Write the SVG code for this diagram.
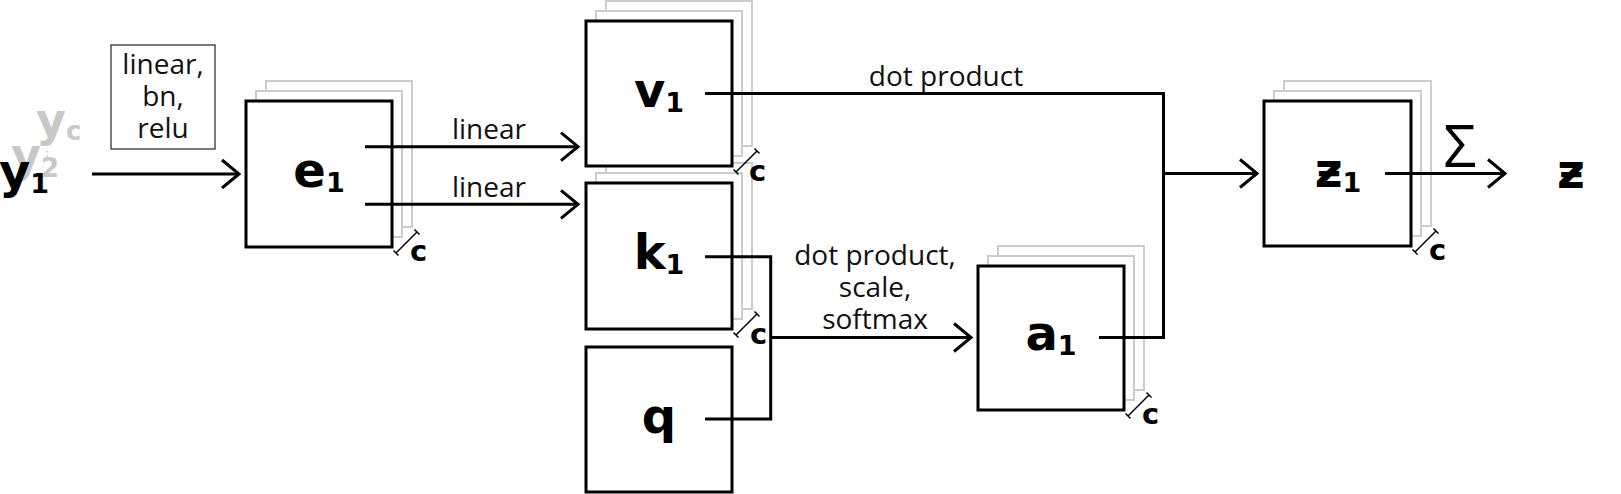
<svg xmlns="http://www.w3.org/2000/svg" width="1621" height="494" viewBox="0 0 1621 494">
<style>
.box{fill:#fff;stroke:#000;stroke-width:3}
.lay{fill:#fff;stroke:#cccccc;stroke-width:2}
.lbl{font-family:"Open Sans","DejaVu Sans",sans-serif;font-size:28px;fill:#111;text-anchor:middle}
.big{font-family:"DejaVu Sans",sans-serif;font-weight:bold;font-size:48px;fill:#000}
.sub{font-size:27px}
.cm{font-family:"DejaVu Sans",sans-serif;font-weight:bold;font-size:29px;fill:#000}
.brk{fill:none;stroke:#000;stroke-width:1.5}
.gy{font-family:"DejaVu Sans",sans-serif;font-weight:bold;font-size:46px;fill:#c8c8c8}
.con{fill:none;stroke:#000;stroke-width:3}
.arr{marker-end:url(#arrow)}
</style>
<defs>
<marker id="arrow" markerUnits="userSpaceOnUse" viewBox="-20 -17 24 34" markerWidth="24" markerHeight="34" refX="0" refY="0" orient="auto" overflow="visible">
<path d="M-17,-14 L0,0 L-17,14" fill="none" stroke="#000" stroke-width="3"/>
</marker>
</defs>
<rect width="1621" height="494" fill="#fff"/>

<g id="node-y">
<text class="gy" x="36" y="136">y<tspan font-size="26" dy="4">c</tspan></text>
<text x="47" y="160" font-family="DejaVu Sans,sans-serif" font-size="13" fill="#c8c8c8" text-anchor="middle">⋮</text>
<text class="gy" x="11" y="171">y<tspan font-size="26" dy="6">2</tspan></text>
<text class="big" x="-1" y="187.5">y<tspan class="sub" dy="5">1</tspan></text>
</g>

<g id="node-fc">
<rect x="111" y="45" width="104" height="104" fill="#fff" stroke="#333" stroke-width="1.3"/>
<text class="lbl" x="163" y="74">linear,</text>
<text class="lbl" x="163" y="106">bn,</text>
<text class="lbl" x="163" y="138">relu</text>
</g>

<g id="node-e1">
<rect class="lay" x="266" y="81" width="146" height="146"/>
<rect class="lay" x="256" y="91" width="146" height="146"/>
<rect class="box" x="246" y="101" width="146" height="146"/>
<text class="big" x="319" y="187" text-anchor="middle">e<tspan class="sub" dy="5">1</tspan></text>
<path class="brk" d="M396,253 L417,232 M393.5,250.5 L398.5,255.5 M414.5,229.5 L419.5,234.5"/>
<text class="cm" x="410" y="261">c</text>
</g>

<g id="node-k1">
<rect class="lay" x="606" y="163" width="146" height="146"/>
<rect class="lay" x="596" y="173" width="146" height="146"/>
<rect class="box" x="586" y="183" width="146" height="146"/>
<text class="big" x="659" y="269" text-anchor="middle">k<tspan class="sub" dy="5">1</tspan></text>
<path class="brk" d="M736,335 L757,314 M733.5,332.5 L738.5,337.5 M754.5,311.5 L759.5,316.5"/>
<text class="cm" x="750" y="344">c</text>
</g>

<g id="node-v1">
<rect class="lay" x="606" y="1" width="146" height="145"/>
<rect class="lay" x="596" y="11" width="146" height="145"/>
<rect class="box" x="586" y="21" width="146" height="145"/>
<text class="big" x="659" y="107" text-anchor="middle">v<tspan class="sub" dy="5">1</tspan></text>
<path class="brk" d="M736,172 L757,151 M733.5,169.5 L738.5,174.5 M754.5,148.5 L759.5,153.5"/>
<text class="cm" x="749" y="181">c</text>
</g>

<g id="node-q">
<rect class="box" x="586" y="347" width="146" height="145"/>
<text class="big" x="659" y="433" text-anchor="middle">q</text>
</g>

<g id="node-a1">
<rect class="lay" x="998" y="246" width="146" height="144"/>
<rect class="lay" x="988" y="256" width="146" height="144"/>
<rect class="box" x="978" y="266" width="146" height="144"/>
<text class="big" x="1051" y="350" text-anchor="middle">a<tspan class="sub" dy="5">1</tspan></text>
<path class="brk" d="M1128,416 L1149,395 M1125.5,413.5 L1130.5,418.5 M1146.5,392.5 L1151.5,397.5"/>
<text class="cm" x="1142" y="424">c</text>
</g>

<g id="node-z1">
<rect class="lay" x="1284" y="81" width="147" height="145"/>
<rect class="lay" x="1274" y="91" width="147" height="145"/>
<rect class="box" x="1264" y="101" width="147" height="145"/>
<text class="big" x="1338" y="187" text-anchor="middle">ƶ<tspan class="sub" dy="5">1</tspan></text>
<path class="brk" d="M1415,252 L1436,231 M1412.5,249.5 L1417.5,254.5 M1433.5,228.5 L1438.5,233.5"/>
<text class="cm" x="1429" y="260">c</text>
</g>

<g id="node-z">
<text class="big" x="1571" y="187.5" text-anchor="middle">ƶ</text>
</g>

<g id="connectors">
<path class="con arr" d="M92,174 H239"/>
<path class="con arr" d="M365,146.7 H578"/>
<path class="con arr" d="M365,204.3 H578"/>
<path class="con" d="M705,93.5 H1163.5 V337.5 H1099"/>
<path class="con arr" d="M1163.5,173.5 H1257"/>
<path class="con" d="M705,256.7 H770.7 V419 H705"/>
<path class="con arr" d="M770.7,337.5 H971"/>
<path class="con arr" d="M1385,173.5 H1505"/>
<text class="lbl" x="489" y="139">linear</text>
<text class="lbl" x="489" y="196.5">linear</text>
<text class="lbl" x="946" y="86">dot product</text>
<text class="lbl" x="875" y="265">dot product,</text>
<text class="lbl" x="875" y="297">scale,</text>
<text class="lbl" x="875" y="329">softmax</text>
<text x="1460" y="167" font-family="Open Sans,DejaVu Sans,sans-serif" font-size="58" text-anchor="middle" fill="#000">Σ</text>
</g>
</svg>
